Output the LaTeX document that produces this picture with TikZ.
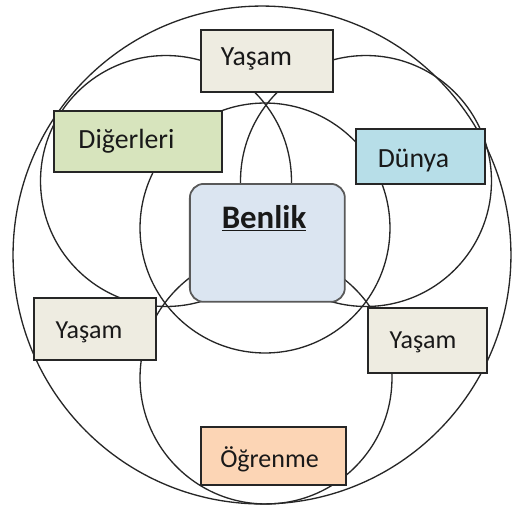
\documentclass[tikz,border=0pt]{standalone}
\usepackage{fontspec}
\setmainfont{Carlito}
\begin{document}
\begin{tikzpicture}[x=0.02cm,y=-0.02cm,
  ring/.style={draw=black!85, line width=0.75pt},
  panel/.style={draw=black!85, line width=1.1pt, inner sep=0pt, anchor=north west},
  word/.style={anchor=base, inner sep=0pt, text=black!90, font=\fontsize{15.8}{18}\selectfont},
  smallword/.style={word, font=\fontsize{14.8}{17}\selectfont}
]
\useasboundingbox (0,0) rectangle (512,512);
\fill[white] (0,0) rectangle (512,512);

% rings
\draw[ring] (262,255) circle[radius=4.98cm];
\draw[ring] (166,181) circle[radius=2.51cm];
\draw[ring] (366,181) circle[radius=2.51cm];
\draw[ring] (265,228) circle[radius=2.50cm];
\draw[ring] (266,378) circle[radius=2.52cm];

% boxes
\node[panel, fill={rgb,255:red,238;green,236;blue,225}, minimum width=2.64cm, minimum height=1.24cm] (yTop) at (200,29) {};
\node[panel, fill={rgb,255:red,215;green,228;blue,189}, minimum width=3.36cm, minimum height=1.22cm] (others) at (53,110) {};
\node[panel, fill={rgb,255:red,183;green,222;blue,232}, minimum width=2.58cm, minimum height=1.10cm] (world) at (355,128) {};
\node[panel, draw=black!65, line width=1pt, rounded corners=0.28cm, fill={rgb,255:red,219;green,229;blue,241}, minimum width=3.10cm, minimum height=2.36cm] (self) at (189,183) {};
\node[panel, fill={rgb,255:red,238;green,236;blue,225}, minimum width=2.44cm, minimum height=1.24cm] (yLeft) at (33,297) {};
\node[panel, fill={rgb,255:red,238;green,236;blue,225}, minimum width=2.38cm, minimum height=1.30cm] (yRight) at (367,307) {};
\node[panel, fill={rgb,255:red,252;green,213;blue,181}, minimum width=2.90cm, minimum height=1.16cm] (learn) at (200,426) {};

% labels
\node[word] (tTop) at (256.5,65) {Yaşam};
\node[word] (tOthers) at (126.5,148) {Diğerleri};
\node[word] (tWorld) at (413.5,167) {Dünya};
\node[word, font=\bfseries\fontsize{18.7}{22}\selectfont] (tSelf) at (264,228) {\underline{Benlik}};
\node[smallword] (tLeft) at (89,338) {Yaşam};
\node[smallword] (tRight) at (423,348) {Yaşam};
\node[smallword] (tLearn) at (269.5,467) {Öğrenme};
\end{tikzpicture}
\end{document}
